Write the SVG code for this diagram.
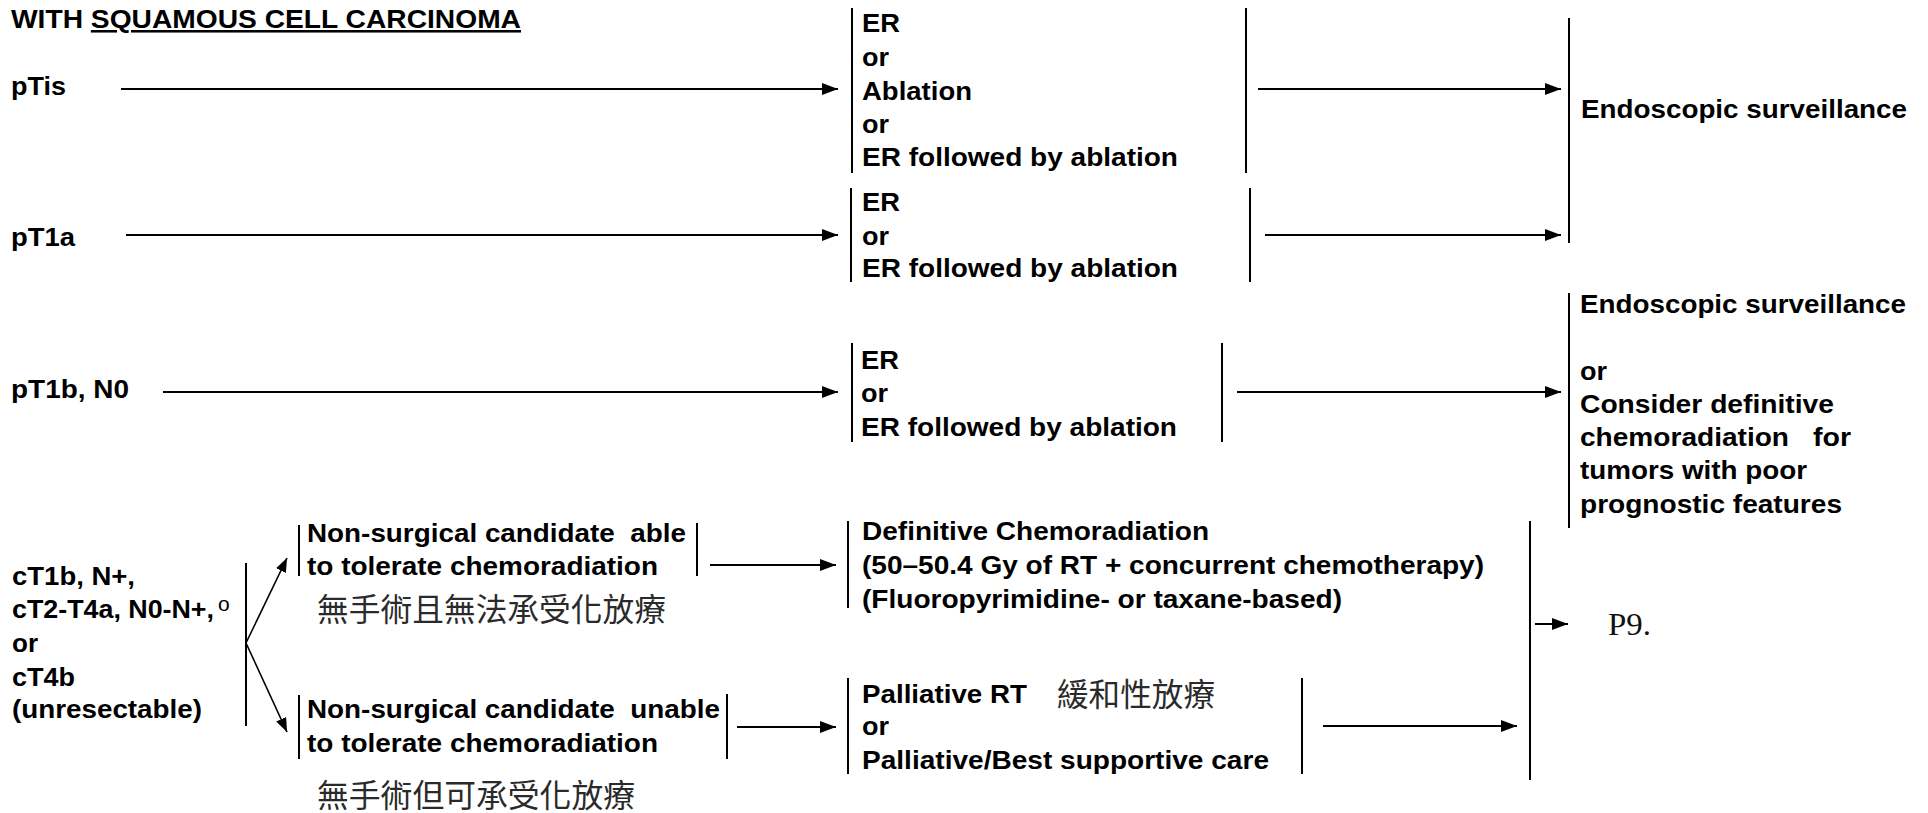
<svg xmlns="http://www.w3.org/2000/svg" width="1928" height="813" viewBox="0 0 1928 813">
<style>
.b{font-family:"Liberation Sans",Arial,sans-serif;font-weight:bold;font-size:25px;fill:#000;white-space:pre}
.t{font-family:"Liberation Sans",Arial,sans-serif;font-weight:bold;font-size:25.5px;fill:#000}
.cjk{font-family:"Noto Sans CJK TC","Noto Sans CJK SC",sans-serif;font-size:31.5px;fill:#2a2a2a}
.ser{font-family:"Liberation Serif","Times New Roman",serif;font-size:31px;fill:#111}
.bar{stroke:#000;stroke-width:2;fill:none}
.c{stroke:#000;stroke-width:2;fill:none;marker-end:url(#ah)}
.d{stroke:#000;stroke-width:1.6;fill:none;marker-end:url(#ah2)}
</style>
<defs>
<marker id="ah" markerUnits="userSpaceOnUse" markerWidth="16" markerHeight="12" refX="16" refY="6" orient="auto"><path d="M0,0 L16,6 L0,12 z" fill="#000"/></marker>
<marker id="ah2" markerUnits="userSpaceOnUse" markerWidth="14" markerHeight="11" refX="14" refY="5.5" orient="auto"><path d="M0,0 L14,5.5 L0,11 z" fill="#000"/></marker>
</defs>
<rect width="1928" height="813" fill="#fff"/>

<g id="title"><text class="t" x="11" y="28" textLength="510" lengthAdjust="spacingAndGlyphs">WITH <tspan text-decoration="underline">SQUAMOUS CELL CARCINOMA</tspan></text></g>

<g id="pTis"><text class="b" x="11" y="95" textLength="55" lengthAdjust="spacingAndGlyphs">pTis</text></g>
<g id="pT1a"><text class="b" x="11" y="246" textLength="64" lengthAdjust="spacingAndGlyphs">pT1a</text></g>
<g id="pT1bN0"><text class="b" x="11" y="398" textLength="118" lengthAdjust="spacingAndGlyphs">pT1b, N0</text></g>

<g id="tx1">
<line class="bar" x1="852" y1="8" x2="852" y2="173"/><line class="bar" x1="1246" y1="8" x2="1246" y2="173"/>
<text class="b" x="862" y="32" textLength="38" lengthAdjust="spacingAndGlyphs">ER</text>
<text class="b" x="862" y="66" textLength="27" lengthAdjust="spacingAndGlyphs">or</text>
<text class="b" x="862" y="99.5" textLength="110" lengthAdjust="spacingAndGlyphs">Ablation</text>
<text class="b" x="862" y="133" textLength="27" lengthAdjust="spacingAndGlyphs">or</text>
<text class="b" x="862" y="166" textLength="316" lengthAdjust="spacingAndGlyphs">ER followed by ablation</text>
</g>

<g id="tx2">
<line class="bar" x1="851" y1="188" x2="851" y2="282"/><line class="bar" x1="1250" y1="188" x2="1250" y2="282"/>
<text class="b" x="862" y="211" textLength="38" lengthAdjust="spacingAndGlyphs">ER</text>
<text class="b" x="862" y="245" textLength="27" lengthAdjust="spacingAndGlyphs">or</text>
<text class="b" x="862" y="277" textLength="316" lengthAdjust="spacingAndGlyphs">ER followed by ablation</text>
</g>

<g id="tx3">
<line class="bar" x1="852" y1="343" x2="852" y2="442"/><line class="bar" x1="1222" y1="343" x2="1222" y2="442"/>
<text class="b" x="861" y="369" textLength="38" lengthAdjust="spacingAndGlyphs">ER</text>
<text class="b" x="861" y="402" textLength="27" lengthAdjust="spacingAndGlyphs">or</text>
<text class="b" x="861" y="436" textLength="316" lengthAdjust="spacingAndGlyphs">ER followed by ablation</text>
</g>

<g id="surv1">
<line class="bar" x1="1569" y1="18" x2="1569" y2="243"/>
<text class="b" x="1581" y="118" textLength="326" lengthAdjust="spacingAndGlyphs">Endoscopic surveillance</text>
</g>

<g id="surv3">
<line class="bar" x1="1569" y1="293" x2="1569" y2="528"/>
<text class="b" x="1580" y="313" textLength="326" lengthAdjust="spacingAndGlyphs">Endoscopic surveillance</text>
<text class="b" x="1580" y="380" textLength="27" lengthAdjust="spacingAndGlyphs">or</text>
<text class="b" x="1580" y="413" textLength="254" lengthAdjust="spacingAndGlyphs">Consider definitive</text>
<text class="b" x="1580" y="446" textLength="209" lengthAdjust="spacingAndGlyphs">chemoradiation</text>
<text class="b" x="1813" y="446" textLength="38" lengthAdjust="spacingAndGlyphs">for</text>
<text class="b" x="1580" y="479" textLength="227" lengthAdjust="spacingAndGlyphs">tumors with poor</text>
<text class="b" x="1580" y="513" textLength="262" lengthAdjust="spacingAndGlyphs">prognostic features</text>
</g>

<g id="cT">
<text class="b" x="12" y="585" textLength="123" lengthAdjust="spacingAndGlyphs">cT1b, N+,</text>
<text class="b" x="12" y="618" textLength="202" lengthAdjust="spacingAndGlyphs">cT2-T4a, N0-N+,</text>
<text x="218" y="611" font-family="Liberation Sans, Arial, sans-serif" font-size="21" fill="#000">o</text>
<text class="b" x="12" y="652" textLength="26" lengthAdjust="spacingAndGlyphs">or</text>
<text class="b" x="12" y="686" textLength="63" lengthAdjust="spacingAndGlyphs">cT4b</text>
<text class="b" x="12" y="718" textLength="190" lengthAdjust="spacingAndGlyphs">(unresectable)</text>
<line class="bar" x1="246" y1="563" x2="246" y2="726"/>
</g>

<g id="able">
<line class="bar" x1="299" y1="525" x2="299" y2="576"/><line class="bar" x1="697" y1="523" x2="697" y2="576"/>
<text class="b" x="307" y="542" textLength="379" lengthAdjust="spacingAndGlyphs" xml:space="preserve">Non-surgical candidate  able</text>
<text class="b" x="307" y="575" textLength="351" lengthAdjust="spacingAndGlyphs">to tolerate chemoradiation</text>
<text class="cjk" x="317" y="621" textLength="349" lengthAdjust="spacingAndGlyphs">無手術且無法承受化放療</text>
</g>

<g id="unable">
<line class="bar" x1="299" y1="695" x2="299" y2="759"/><line class="bar" x1="727" y1="694" x2="727" y2="759"/>
<text class="b" x="307" y="718" textLength="413" lengthAdjust="spacingAndGlyphs" xml:space="preserve">Non-surgical candidate  unable</text>
<text class="b" x="307" y="752" textLength="351" lengthAdjust="spacingAndGlyphs">to tolerate chemoradiation</text>
<text class="cjk" x="317" y="807" textLength="318" lengthAdjust="spacingAndGlyphs">無手術但可承受化放療</text>
</g>

<g id="definitive">
<line class="bar" x1="848" y1="521" x2="848" y2="608"/>
<text class="b" x="862" y="540" textLength="347" lengthAdjust="spacingAndGlyphs">Definitive Chemoradiation</text>
<text class="b" x="862" y="574" textLength="622" lengthAdjust="spacingAndGlyphs">(50–50.4 Gy of RT + concurrent chemotherapy)</text>
<text class="b" x="862" y="608" textLength="480" lengthAdjust="spacingAndGlyphs">(Fluoropyrimidine- or taxane-based)</text>
</g>

<g id="palliative">
<line class="bar" x1="848" y1="678" x2="848" y2="774"/><line class="bar" x1="1302" y1="678" x2="1302" y2="774"/>
<text class="b" x="862" y="703" textLength="165" lengthAdjust="spacingAndGlyphs">Palliative RT</text>
<text class="cjk" x="1057" y="706" textLength="158" lengthAdjust="spacingAndGlyphs">緩和性放療</text>
<text class="b" x="862" y="735" textLength="27" lengthAdjust="spacingAndGlyphs">or</text>
<text class="b" x="862" y="769" textLength="407" lengthAdjust="spacingAndGlyphs">Palliative/Best supportive care</text>
</g>

<g id="p9">
<line class="bar" x1="1530" y1="521" x2="1530" y2="780"/>
<text class="ser" x="1608" y="635" textLength="43" lengthAdjust="spacingAndGlyphs">P9.</text>
</g>

<g id="connectors">
<line class="c" x1="121" y1="89" x2="838" y2="89"/>
<line class="c" x1="1258" y1="89" x2="1561" y2="89"/>
<line class="c" x1="126" y1="235" x2="838" y2="235"/>
<line class="c" x1="1265" y1="235" x2="1561" y2="235"/>
<line class="c" x1="163" y1="392" x2="838" y2="392"/>
<line class="c" x1="1237" y1="392" x2="1561" y2="392"/>
<line class="d" x1="246" y1="643" x2="287" y2="558"/>
<line class="d" x1="246" y1="643" x2="287" y2="732"/>
<line class="c" x1="710" y1="565" x2="836" y2="565"/>
<line class="c" x1="737" y1="727" x2="836" y2="727"/>
<line class="c" x1="1323" y1="726" x2="1517" y2="726"/>
<line class="c" x1="1535" y1="624" x2="1568" y2="624"/>
</g>
</svg>
